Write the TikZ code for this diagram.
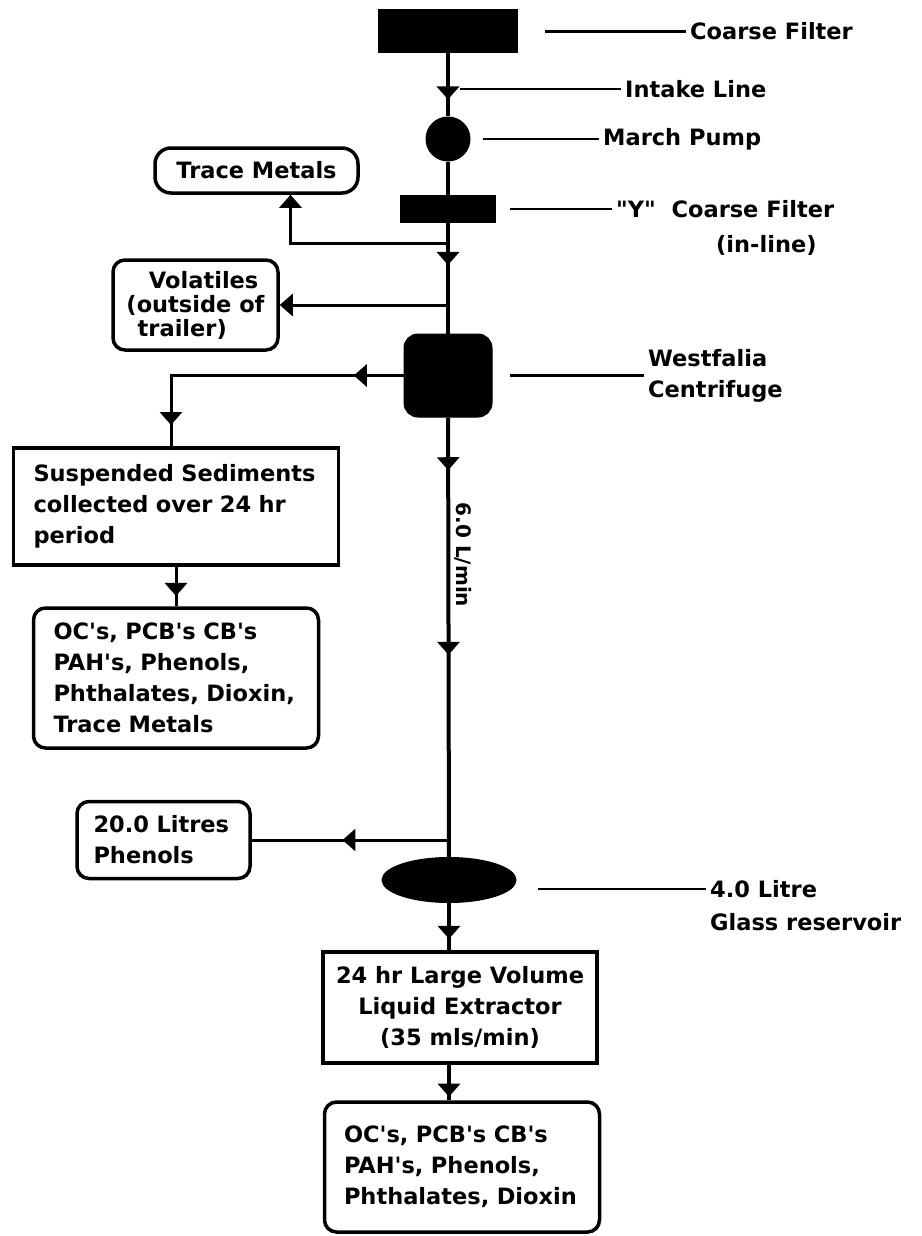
\documentclass[tikz,border=0pt]{standalone}
\usepackage{fontspec}
\setmainfont{DejaVu Sans}[Ligatures=TeXOff]
\usetikzlibrary{calc,positioning,arrows.meta,shapes.geometric,decorations.markings}

\begin{document}
\begin{tikzpicture}[x=1pt, y=-1pt,
  font=\bfseries\fontsize{22.5}{31}\selectfont,
  >={Triangle[width=22pt,length=13pt]},
  unit/.style={draw, fill=black, line width=1pt, inner sep=0pt},
  box/.style={draw, line width=3.5pt, inner sep=0pt, align=left},
  rbox/.style={box, rounded corners=12pt},
  lbl/.style={anchor=west, inner sep=4pt, align=left},
  pipe/.style={line width=4pt},
  branch/.style={line width=3pt},
  lead/.style={line width=2.5pt},
  flow/.style={postaction={decorate, decoration={markings,
      mark=at position #1 with {\arrow{>}}}}}]
\useasboundingbox (0,0) rectangle (921,1236);
\node[unit, minimum width=139, minimum height=43] (cfilt) at (448,31.5) {};
\node[unit, circle, minimum size=44] (pump) at (448,139) {};
\node[unit, minimum width=95, minimum height=27] (yfilt) at (448,209) {};
\node[unit, rounded corners=14pt, minimum width=88, minimum height=83] (cent) at (448,375.5) {};
\node[unit, ellipse, minimum width=134, minimum height=45] (resv) at (449,880) {};
\node[box, align=center, minimum width=274, minimum height=111] (lle) at (460,1007.5) {24 hr Large Volume\\Liquid Extractor\\(35 mls/min)};
\node[rbox, text width=236, minimum width=275, minimum height=130] (oc2) at (462,1167) {OC's, PCB's CB's\\PAH's, Phenols,\\Phthalates, Dioxin};
\node[rbox, rounded corners=16pt, align=center, minimum width=203, minimum height=45] (tm) at (256.5,170.5) {Trace Metals};
\node[rbox, font=\bfseries\fontsize{22.5}{24}\selectfont, minimum width=165, minimum height=90] (vol) at (195.5,305) {\hspace*{1em}Volatiles\\(outside of\\\hspace*{0.5em}trailer)};
\node[box, text width=285, minimum width=325, minimum height=117] (ss) at (176,506.5) {Suspended Sediments\\collected over 24 hr\\period};
\node[rbox, text width=245, minimum width=285, minimum height=140] (oc1) at (176,678) {OC's, PCB's CB's\\PAH's, Phenols,\\Phthalates, Dioxin,\\Trace Metals};
\node[rbox, text width=140, minimum width=173, minimum height=77] (lit) at (163.5,840) {20.0 Litres\\Phenols};
\node[rotate=-90, font=\bfseries\fontsize{20}{24}\selectfont] (rate) at (463,555) {6.0 L/min};

\node[lbl] (lcf) at (686,31.5) {Coarse Filter};
\node[lbl] (lint) at (621,89) {Intake Line};
\node[lbl] (lmp) at (599,139) {March Pump};
\node[lbl] (ly) at (612,209) {"Y"\ \ Coarse Filter};
\node[lbl] (lyb) at (712,245) {(in-line)};
\node[lbl] (lcent) at (644,375.5) {Westfalia\\Centrifuge};
\node[lbl] (lres) at (706,889) {4.0 Litre};
\node[lbl] (lres2) at (706,922) {Glass reservoir};

\coordinate (j1) at (448,243);
\coordinate (j2) at (448,305);
\coordinate (j3) at (449,840);
\coordinate (cf0) at (545,31.5);
\coordinate (int0) at (460,89);
\coordinate (mp0) at (483,139);
\coordinate (y0) at (510,209);
\coordinate (cent0) at (510,375.5);
\coordinate (res0) at (538,889);

\draw[pipe, flow=0.73] (cfilt) -- (pump);
\draw[pipe] (pump) -- (yfilt);
\draw[pipe, flow=0.38] (yfilt) -- (cent);
\draw[pipe, flow=0.12, flow=0.54] (cent) -- (resv);
\draw[pipe, flow=0.76] (resv) -- (resv |- lle.north);
\draw[pipe, flow=0.9] (resv |- lle.south) -- (resv |- oc2.north);

\draw[branch, ->] (j1) -| ($(tm.south)+(34,0)$);
\draw[branch, ->] (j2) -- (vol.east);
\draw[branch, flow=0.164, flow=0.93] (cent.west) -| ($(ss.north)+(-5,0)$);
\draw[branch, flow=0.74] (ss) -- (oc1);
\draw[branch, flow=0.54] (j3) -- (lit.east);

\draw[lead] (cf0) -- (lcf.west);
\draw[lead] (int0) -- (lint.west);
\draw[lead] (mp0) -- (lmp.west);
\draw[lead] (y0) -- (ly.west);
\draw[lead] (cent0) -- (lcent.west);
\draw[lead] (res0) -- (lres.west);
\end{tikzpicture}
\end{document}
